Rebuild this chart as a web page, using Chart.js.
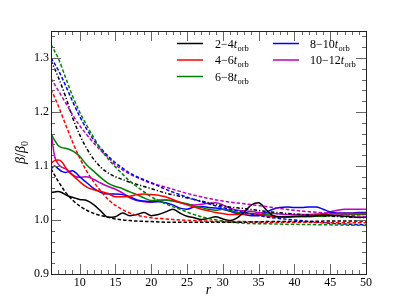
<!DOCTYPE html>
<html>
<head>
<meta charset="utf-8">
<script src="https://cdn.jsdelivr.net/npm/chart.js@4.4.0/dist/chart.umd.min.js"></script>
<style>
  html, body { margin: 0; padding: 0; background: #fff; }
  #wrap { width: 407px; height: 305px; }
</style>
</head>
<body>
<div id="wrap"><canvas id="chart" width="407" height="305"></canvas></div>
<script>
// radii for the simulation profiles and the fitted curves
const rSim = [6, 6.5, 7, 7.5, 8, 8.5, 9, 9.5, 10, 11, 12, 13, 14, 15, 16, 17, 18, 19, 20, 21, 22, 23, 24, 25, 26, 27, 28, 29, 30,
  31, 32, 33, 34, 35, 36, 37, 38, 39, 40, 41, 42, 43, 44, 45, 46, 47, 48, 49, 50];
const rFit = [6, 7, 8, 9, 10, 11, 12, 13, 14, 15, 16, 17, 18, 20, 22, 24, 26, 28, 30, 33, 36, 40, 45, 50];

// time windows (legend)
const periods = ['2\u22124', '4\u22126', '6\u22128', '8\u221210', '10\u221212'];

// simulation profiles (solid)
const sim2to4 = [1.051, 1.052, 1.053, 1.051, 1.047, 1.044, 1.042, 1.040, 1.038, 1.036, 1.028, 1.016, 1.005, 1.006, 1.013, 1.008,
  1.010, 1.014, 1.008, 1.010, 1.015, 1.020, 1.013, 1.007, 1.004, 1.001, 1.003, 1.006, 1.002, 0.999, 1.004, 1.015, 1.028, 1.032,
  1.020, 1.008, 1.006, 1.006, 1.007, 1.007, 1.007, 1.008, 1.009, 1.009, 1.008, 1.007, 1.006, 1.005, 1.005];
const sim4to6 = [1.105, 1.110, 1.111, 1.108, 1.098, 1.089, 1.083, 1.077, 1.071, 1.061, 1.056, 1.053, 1.049, 1.043, 1.043, 1.044,
  1.047, 1.048, 1.047, 1.046, 1.043, 1.038, 1.033, 1.028, 1.024, 1.020, 1.017, 1.014, 1.012, 1.010, 1.010, 1.011, 1.012, 1.010,
  1.008, 1.006, 1.005, 1.005, 1.006, 1.007, 1.008, 1.009, 1.010, 1.011, 1.012, 1.012, 1.012, 1.012, 1.012];
const sim6to8 = [1.160, 1.148, 1.138, 1.134, 1.133, 1.131, 1.128, 1.124, 1.118, 1.102, 1.090, 1.078, 1.068, 1.062, 1.058, 1.052,
  1.047, 1.041, 1.036, 1.037, 1.037, 1.035, 1.033, 1.030, 1.026, 1.023, 1.020, 1.018, 1.020, 1.018, 1.014, 1.013, 1.012, 1.011,
  1.010, 1.008, 1.006, 1.006, 1.006, 1.006, 1.006, 1.007, 1.007, 1.008, 1.009, 1.010, 1.010, 1.010, 1.010];
const sim8to10 = [1.095, 1.100, 1.095, 1.090, 1.088, 1.090, 1.091, 1.087, 1.080, 1.069, 1.058, 1.051, 1.048, 1.048, 1.047, 1.043,
  1.037, 1.035, 1.034, 1.034, 1.032, 1.028, 1.022, 1.020, 1.024, 1.025, 1.023, 1.022, 1.020, 1.016, 1.012, 1.010, 1.008, 1.008,
  1.014, 1.020, 1.023, 1.024, 1.023, 1.023, 1.024, 1.024, 1.020, 1.015, 1.013, 1.013, 1.013, 1.014, 1.014];
const sim10to12 = [1.165, 1.118, 1.104, 1.098, 1.095, 1.090, 1.084, 1.080, 1.079, 1.080, 1.075, 1.068, 1.062, 1.057, 1.050, 1.041,
  1.036, 1.034, 1.033, 1.035, 1.037, 1.036, 1.032, 1.029, 1.028, 1.029, 1.031, 1.032, 1.028, 1.022, 1.018, 1.017, 1.016, 1.014,
  1.013, 1.012, 1.011, 1.010, 1.010, 1.010, 1.010, 1.011, 1.012, 1.015, 1.018, 1.020, 1.020, 1.020, 1.020];

// fitted curves (dashed)
const fit2to4 = [1.095, 1.072, 1.052, 1.037, 1.026, 1.018, 1.012, 1.008, 1.005, 1.002, 1.000, 0.999, 0.998, 0.997, 0.996, 0.996,
  0.996, 0.996, 0.996, 0.996, 0.997, 0.997, 0.998, 0.998];
const fit4to6 = [1.242, 1.212, 1.178, 1.145, 1.115, 1.090, 1.070, 1.053, 1.038, 1.027, 1.019, 1.013, 1.009, 1.004, 1.002, 1.000,
  0.999, 0.998, 0.997, 0.997, 0.996, 0.996, 0.995, 0.995];
const fit6to8 = [1.325, 1.300, 1.265, 1.230, 1.200, 1.175, 1.152, 1.130, 1.113, 1.098, 1.085, 1.072, 1.062, 1.043, 1.030, 1.020,
  1.010, 1.003, 0.998, 0.994, 0.993, 0.992, 0.991, 0.990];
const fit8to10 = [1.300, 1.278, 1.250, 1.220, 1.192, 1.168, 1.148, 1.132, 1.118, 1.106, 1.096, 1.087, 1.080, 1.069, 1.057, 1.047,
  1.038, 1.030, 1.023, 1.014, 1.006, 1.000, 0.994, 0.991];
const fit10to12 = [1.262, 1.240, 1.218, 1.195, 1.175, 1.158, 1.142, 1.128, 1.116, 1.102, 1.093, 1.085, 1.079, 1.068, 1.061, 1.053,
  1.046, 1.040, 1.035, 1.030, 1.025, 1.018, 1.012, 1.006];
// extra black dash-dot curve
const fitAlt = [1.295, 1.265, 1.230, 1.190, 1.158, 1.132, 1.112, 1.097, 1.087, 1.080, 1.075, 1.070, 1.066, 1.058, 1.050, 1.044,
  1.038, 1.032, 1.026, 1.021, 1.016, 1.011, 1.007, 1.004];

const colors = ['#000000', '#ff0000', '#008000', '#0000ff', '#bf00bf'];
const serif = "'Liberation Serif', 'DejaVu Serif', serif";

function pts(xs, ys) {
  return xs.map((x, i) => ({ x: x, y: ys[i] }));
}

function lineSet(xs, ys, color, dash) {
  return {
    data: pts(xs, ys),
    borderColor: color,
    borderWidth: 1.5,
    borderDash: dash,
    pointRadius: 0,
    cubicInterpolationMode: 'monotone',
    fill: false
  };
}

const sims = [sim2to4, sim4to6, sim6to8, sim8to10, sim10to12];
const fits = [fit2to4, fit4to6, fit6to8, fit8to10, fit10to12];

const datasets = [];
fits.forEach((f, i) => datasets.push(lineSet(rFit, f, colors[i], [3.5, 2])));
datasets.push(lineSet(rFit, fitAlt, '#000000', [3.5, 2, 1.2, 2]));
sims.forEach((s, i) => {
  const d = lineSet(rSim, s, colors[i], []);
  d.label = periods[i];
  datasets.push(d);
});

// frame, inward ticks on all four sides, axis titles and legend
const decor = {
  id: 'decor',
  afterDatasetsDraw(chart) {
    const { ctx, chartArea: a, scales: { x, y } } = chart;
    ctx.save();
    ctx.strokeStyle = '#666';
    ctx.lineWidth = 1;
    const seg = (x1, y1, x2, y2) => { ctx.beginPath(); ctx.moveTo(x1, y1); ctx.lineTo(x2, y2); ctx.stroke(); };
    for (let v = 6; v <= 50; v++) {
      const px = Math.round(x.getPixelForValue(v)) + 0.5;
      const len = v % 5 === 0 ? 10 : 4;
      seg(px, a.bottom, px, a.bottom - len);
      seg(px, a.top, px, a.top + len);
    }
    for (let k = 45; k <= 67; k++) {
      const py = Math.round(y.getPixelForValue(k * 0.02)) + 0.5;
      const len = k % 5 === 0 ? 10 : 4;
      seg(a.left, py, a.left + len, py);
      seg(a.right, py, a.right - len, py);
    }
    ctx.strokeStyle = '#222';
    ctx.strokeRect(Math.round(a.left) + 0.5, Math.round(a.top) + 0.5,
      Math.round(a.right - a.left), Math.round(a.bottom - a.top));

    ctx.fillStyle = '#000';
    ctx.textBaseline = 'alphabetic';
    ctx.textAlign = 'left';

    // x title
    ctx.font = 'italic 14px ' + serif;
    const rw = ctx.measureText('r').width;
    ctx.fillText('r', (a.left + a.right) / 2 - rw / 2, 294);

    // y title
    ctx.translate(25, (a.top + a.bottom) / 2);
    ctx.rotate(-Math.PI / 2);
    ctx.font = 'italic 14px ' + serif;
    const wb = ctx.measureText('\u03b2').width;
    ctx.font = '14px ' + serif;
    const ws = ctx.measureText('/').width;
    ctx.font = '10px ' + serif;
    const wz = ctx.measureText('0').width;
    let cx = -(2 * wb + ws + wz) / 2;
    ctx.font = 'italic 14px ' + serif;
    ctx.fillText('\u03b2', cx, 0); cx += wb;
    ctx.font = '14px ' + serif;
    ctx.fillText('/', cx, 0); cx += ws;
    ctx.font = 'italic 14px ' + serif;
    ctx.fillText('\u03b2', cx, 0); cx += wb;
    ctx.font = '10px ' + serif;
    ctx.fillText('0', cx, 3);
    ctx.restore();

    // legend
    ctx.save();
    const rows = [43.5, 60, 76.5];
    const cols = [{ line: 177, text: 215 }, { line: 273, text: 310 }];
    periods.forEach((p, i) => {
      const col = cols[i < 3 ? 0 : 1];
      const yy = rows[i < 3 ? i : i - 3];
      ctx.strokeStyle = colors[i];
      ctx.lineWidth = 1.5;
      ctx.beginPath();
      ctx.moveTo(col.line, yy);
      ctx.lineTo(col.line + 26, yy);
      ctx.stroke();
      ctx.fillStyle = '#000';
      let tx = col.text;
      const base = yy + 4;
      ctx.font = '12px ' + serif;
      ctx.fillText(p, tx, base);
      tx += ctx.measureText(p).width;
      ctx.font = 'italic 12px ' + serif;
      ctx.fillText('t', tx, base);
      tx += ctx.measureText('t').width;
      ctx.font = '8.5px ' + serif;
      ctx.fillText('orb', tx + 0.3, base + 3);
    });
    ctx.restore();
  }
};

new Chart(document.getElementById('chart'), {
  type: 'line',
  data: { datasets: datasets },
  options: {
    responsive: false,
    animation: false,
    devicePixelRatio: 1,
    layout: { padding: { top: 31, right: 41, left: 0, bottom: 0 } },
    plugins: { legend: { display: false }, tooltip: { enabled: false } },
    scales: {
      x: {
        type: 'linear',
        min: 6,
        max: 50,
        grid: { display: false, drawTicks: false },
        border: { display: false },
        ticks: {
          stepSize: 5,
          includeBounds: false,
          maxRotation: 0,
          padding: 2,
          color: '#000',
          font: { family: serif, size: 12 }
        },
        afterFit: function(s) { s.height = 31; }
      },
      y: {
        min: 0.9,
        max: 1.35,
        grid: { display: false, drawTicks: false },
        border: { display: false },
        ticks: {
          stepSize: 0.1,
          includeBounds: false,
          padding: 2,
          color: '#000',
          font: { family: serif, size: 12 },
          callback: function(v) { return v.toFixed(1); }
        },
        afterFit: function(s) { s.width = 51; }
      }
    }
  },
  plugins: [decor]
});
</script>
</body>
</html>
